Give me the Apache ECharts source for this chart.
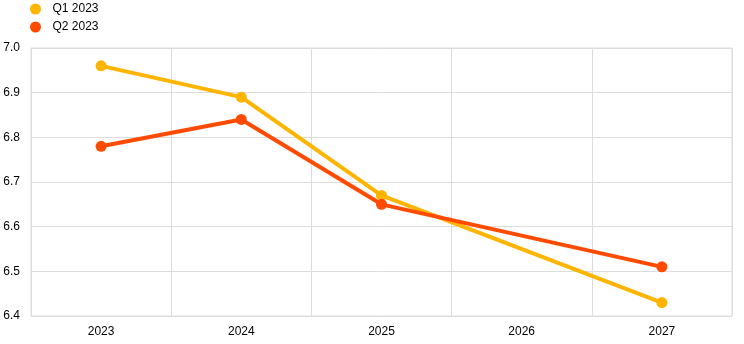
<!DOCTYPE html>
<html>
<head>
<meta charset="utf-8">
<script src="https://cdn.jsdelivr.net/npm/echarts@6/dist/echarts.min.js"></script>
<style>
  html, body { margin: 0; padding: 0; background: #fff; }
  #chart { width: 744px; height: 344px; }
</style>
</head>
<body>
<div id="chart"></div>
<script>
// Forecast vintages by year (2026 has no published point; the line bridges it)
const years = ['2023', '2024', '2025', '2026', '2027'];
const q1_2023 = [6.96, 6.89, 6.67, null, 6.43];
const q2_2023 = [6.78, 6.84, 6.65, null, 6.51];
const yTicks = { min: 6.4, max: 7.0, step: 0.1 };

const chart = echarts.init(document.getElementById('chart'), null, { renderer: 'canvas' });
const font = 'Arial, "Liberation Sans", sans-serif';

function lineSeries(name, data, color) {
  return {
    name: name,
    type: 'line',
    data: data,
    connectNulls: true,
    symbol: 'circle',
    symbolSize: 11,
    lineStyle: { width: 4, color: color },
    itemStyle: { color: color },
    emphasis: { disabled: true }
  };
}

chart.setOption({
  animation: false,
  color: ['#FFB400', '#FF4B00'],
  legend: {
    orient: 'vertical',
    left: 30,
    top: 3,
    padding: 0,
    itemGap: 6,
    itemWidth: 24,
    itemHeight: 11,
    icon: 'circle',
    textStyle: { fontFamily: font, fontSize: 12, color: '#000' },
    data: ['Q1 2023', 'Q2 2023']
  },
  grid: { left: 31, right: 12, top: 48, bottom: 28, show: true, borderColor: '#dcdcdc', borderWidth: 1 },
  xAxis: {
    type: 'category',
    data: years,
    boundaryGap: true,
    axisLine: { show: false },
    axisTick: { show: false },
    axisLabel: { fontFamily: font, fontSize: 12, color: '#000', margin: 10 },
    splitLine: { show: true, lineStyle: { color: '#dcdcdc', width: 1 } }
  },
  yAxis: {
    type: 'value',
    min: yTicks.min,
    max: yTicks.max,
    interval: yTicks.step,
    axisLine: { show: false },
    axisTick: { show: false },
    axisLabel: {
      fontFamily: font, fontSize: 12, color: '#000', margin: 11,
      formatter: v => v.toFixed(1)
    },
    splitLine: { lineStyle: { color: '#dcdcdc', width: 1 } }
  },
  series: [
    lineSeries('Q1 2023', q1_2023, '#FFB400'),
    lineSeries('Q2 2023', q2_2023, '#FF4B00')
  ]
});
</script>
</body>
</html>
